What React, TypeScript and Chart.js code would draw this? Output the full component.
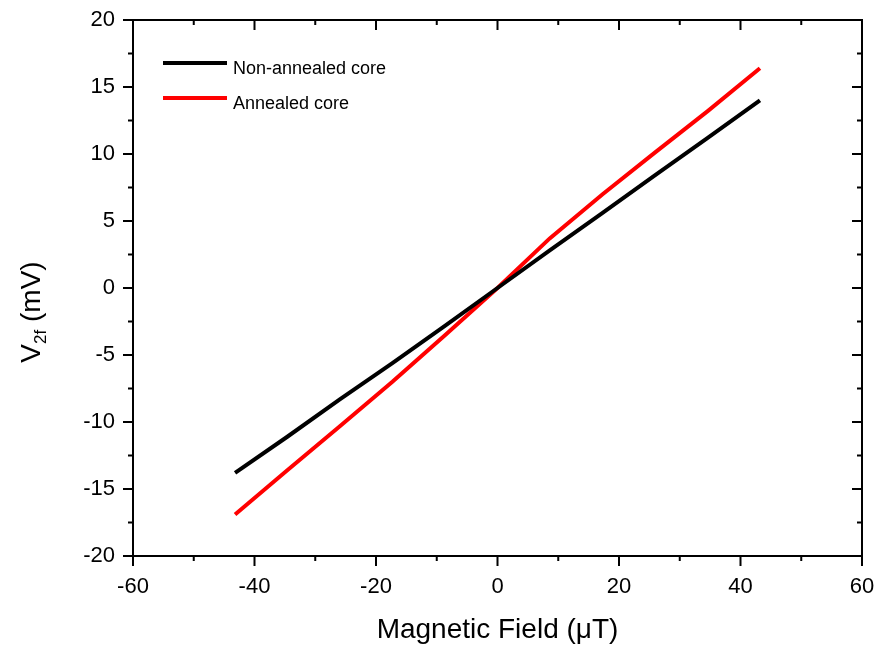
import React, { useEffect, useRef } from "react";
import { Chart, registerables } from "chart.js";

Chart.register(...registerables);

const fieldValues = [-43.2, -34.6, -25.9, -17.3, -8.6, 0, 8.6, 17.3, 25.9, 34.6, 43.2];
const nonAnnealed = [-13.8, -11.1, -8.3, -5.6, -2.8, 0, 2.8, 5.6, 8.4, 11.2, 14.0];
const annealed = [-16.9, -13.6, -10.3, -7.0, -3.5, 0, 3.7, 7.0, 10.1, 13.2, 16.4];
const seriesLabels = ["Non-annealed core", "Annealed core"];
const seriesColors = ["#000000", "#ff0000"];
const xMajorTicks = [-60, -40, -20, 0, 20, 40, 60];
const xMinorTicks = [-50, -30, -10, 10, 30, 50];
const yMajorTicks = [-20, -15, -10, -5, 0, 5, 10, 15, 20];
const yMinorTicks = [-17.5, -12.5, -7.5, -2.5, 2.5, 7.5, 12.5, 17.5];
const xTitle = "Magnetic Field (\u03bcT)";
const yTitleMain = "V";
const yTitleSub = "2f";
const yTitleRest = " (mV)";

const FONT = '"Liberation Sans", Arial, sans-serif';

const framePlugin = {
  id: "frameTicks",
  afterDraw(chart: any) {
    const { ctx, chartArea, scales } = chart;
    const { left, right, top, bottom } = chartArea;
    const xs = scales.x;
    const ys = scales.y;
    ctx.save();
    ctx.strokeStyle = "#000";
    ctx.lineWidth = 2;
    ctx.lineCap = "butt";
    ctx.strokeRect(left, top, right - left, bottom - top);
    ctx.beginPath();
    const major = 10;
    const minor = 5;
    xMajorTicks.forEach((v) => {
      const px = xs.getPixelForValue(v);
      ctx.moveTo(px, bottom);
      ctx.lineTo(px, bottom + major);
      ctx.moveTo(px, top);
      ctx.lineTo(px, top + major);
    });
    xMinorTicks.forEach((v) => {
      const px = xs.getPixelForValue(v);
      ctx.moveTo(px, bottom);
      ctx.lineTo(px, bottom + minor);
      ctx.moveTo(px, top);
      ctx.lineTo(px, top + minor);
    });
    yMajorTicks.forEach((v) => {
      const py = ys.getPixelForValue(v);
      ctx.moveTo(left, py);
      ctx.lineTo(left - major, py);
      ctx.moveTo(right, py);
      ctx.lineTo(right - major, py);
    });
    yMinorTicks.forEach((v) => {
      const py = ys.getPixelForValue(v);
      ctx.moveTo(left, py);
      ctx.lineTo(left - minor, py);
      ctx.moveTo(right, py);
      ctx.lineTo(right - minor, py);
    });
    ctx.stroke();

    // Legend
    const datasets = chart.data.datasets;
    const legendX0 = 163;
    const legendX1 = 227;
    const lineYs = [63, 98];
    const textYs = [73.5, 109];
    ctx.font = `18px ${FONT}`;
    ctx.textAlign = "left";
    ctx.textBaseline = "alphabetic";
    datasets.forEach((ds: any, i: number) => {
      ctx.strokeStyle = ds.borderColor;
      ctx.lineWidth = 4;
      ctx.beginPath();
      ctx.moveTo(legendX0, lineYs[i]);
      ctx.lineTo(legendX1, lineYs[i]);
      ctx.stroke();
      ctx.fillStyle = "#000";
      ctx.fillText(ds.label, 233, textYs[i]);
    });

    // X title
    ctx.font = `28px ${FONT}`;
    ctx.textAlign = "center";
    ctx.fillStyle = "#000";
    ctx.fillText(xTitle, (left + right) / 2, 638);

    // Y title with subscript
    ctx.save();
    ctx.translate(40, 312);
    ctx.rotate(-Math.PI / 2);
    const bigFont = `28px ${FONT}`;
    const smallFont = `17px ${FONT}`;
    ctx.font = bigFont;
    const wV = ctx.measureText(yTitleMain).width;
    const wRest = ctx.measureText(yTitleRest).width;
    ctx.font = smallFont;
    const wSub = ctx.measureText(yTitleSub).width;
    const total = wV + wSub + wRest;
    let x = -total / 2;
    ctx.textAlign = "left";
    ctx.font = bigFont;
    ctx.fillText(yTitleMain, x, 0);
    x += wV;
    ctx.font = smallFont;
    ctx.fillText(yTitleSub, x, 6);
    x += wSub;
    ctx.font = bigFont;
    ctx.fillText(yTitleRest, x, 0);
    ctx.restore();

    ctx.restore();
  },
};

export default function App() {
  const ref = useRef<HTMLCanvasElement | null>(null);
  useEffect(() => {
    if (!ref.current) return;
    const chart = new Chart(ref.current, {
      type: "line",
      data: {
        datasets: [
          {
            label: seriesLabels[0],
            data: fieldValues.map((x, i) => ({ x, y: nonAnnealed[i] })),
            borderColor: seriesColors[0],
            backgroundColor: seriesColors[0],
            borderWidth: 4,
            pointRadius: 0,
            tension: 0,
          },
          {
            label: seriesLabels[1],
            data: fieldValues.map((x, i) => ({ x, y: annealed[i] })),
            borderColor: seriesColors[1],
            backgroundColor: seriesColors[1],
            borderWidth: 4,
            pointRadius: 0,
            tension: 0,
          },
        ],
      },
      options: {
        animation: false,
        responsive: false,
        maintainAspectRatio: false,
        layout: { padding: { top: 20, right: 17, left: 0, bottom: 0 } },
        plugins: {
          legend: { display: false },
          tooltip: { enabled: false },
        },
        scales: {
          x: {
            type: "linear",
            min: -60,
            max: 60,
            afterBuildTicks: (scale: any) => {
              scale.ticks = xMajorTicks.map((v) => ({ value: v }));
            },
            afterFit: (scale: any) => {
              scale.height = 97;
              scale.paddingLeft = 0;
              scale.paddingRight = 0;
            },
            grid: { display: false, drawTicks: false },
            border: { display: false },
            ticks: {
              color: "#000",
              font: { family: FONT, size: 22 },
              padding: 18,
              maxRotation: 0,
            },
          },
          y: {
            type: "linear",
            min: -20,
            max: 20,
            afterBuildTicks: (scale: any) => {
              scale.ticks = yMajorTicks.map((v) => ({ value: v }));
            },
            afterFit: (scale: any) => {
              scale.width = 133;
              scale.paddingTop = 0;
              scale.paddingBottom = 0;
            },
            grid: { display: false, drawTicks: false },
            border: { display: false },
            ticks: {
              color: "#000",
              font: { family: FONT, size: 22 },
              padding: 18,
            },
          },
        },
      },
      plugins: [framePlugin],
    } as any);
    return () => chart.destroy();
  }, []);
  return (
    <div style={{ position: "fixed", left: 0, top: 0, width: 879, height: 653, background: "#fff" }}>
      <canvas ref={ref} width={879} height={653} style={{ width: 879, height: 653, display: "block" }} />
    </div>
  );
}
